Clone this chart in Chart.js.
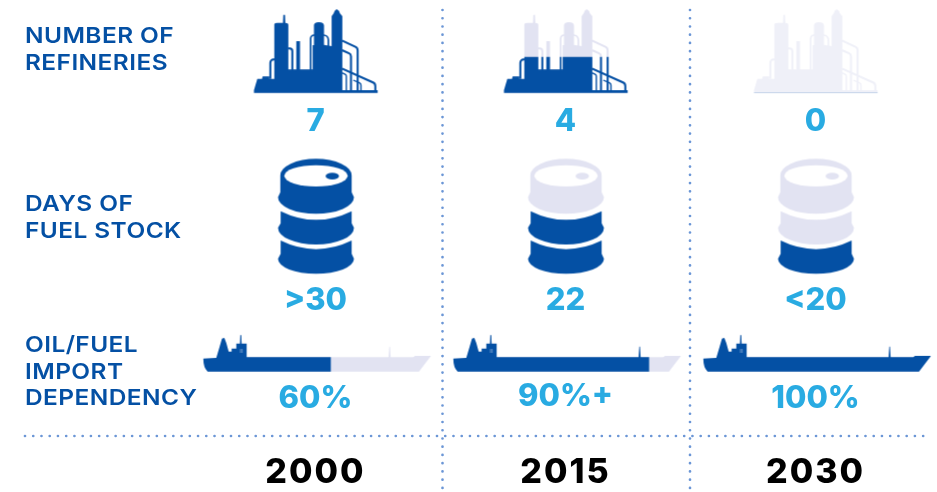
<!DOCTYPE html>
<html>
<head>
<meta charset="utf-8">
<style>
  html, body { margin: 0; background: #fff; }
  canvas { display: block; }
</style>
<script src="https://cdn.jsdelivr.net/npm/chart.js@4"></script>
</head>
<body>
<canvas id="chart" width="937" height="492"></canvas>
<script>
const years = [2000, 2015, 2030];
const rows = ['NUMBER OF REFINERIES', 'DAYS OF FUEL STOCK', 'OIL/FUEL IMPORT DEPENDENCY'];
const rowLines = [['NUMBER OF', 'REFINERIES'], ['DAYS OF', 'FUEL STOCK'], ['OIL/FUEL', 'IMPORT', 'DEPENDENCY']];

const refineries = [7, 4, 0];
const refineryShown = [1, 0.43, 0];   // how far up the icon the dark colour reaches
const stockLabels = ['>30', '22', '<20'];
const stockBands = [3, 2, 1];         // barrel bands filled, counted from the bottom
const importLabels = ['60%', '90%+', '100%'];
const importShown = [56, 86, 100];    // dark share of the ship length
const dividerYears = [2007.62, 2022.47];

const DARK = '#0450a4';
const LIGHT = '#e2e3f2';
const PALE = '#eff0f8';
const SKY = '#29abe2';
const DOTS = '#6b96d6';

function iconCanvas() {
  const c = document.createElement('canvas');
  c.width = 260;
  c.height = 148;
  return c;
}

// [line width, corner radius, points]
const refineryPipes = [
  [6, 10, [[91, 236], [91, 178], [104, 178]]],
  [6, 8, [[144, 145], [157, 145], [157, 210]]],
  [5, 10, [[212, 212], [212, 105], [224, 105]]],
  [5, 14, [[250, 105], [265, 105], [265, 140]]],
  [6, 12, [[306, 121], [353, 143], [353, 272]]],
  [6, 10, [[306, 150], [333, 162], [333, 272]]],
  [6, 12, [[306, 205], [406, 250], [406, 272]]],
  [4, 6, [[306, 218], [319, 224], [319, 272]]],
  [4, 8, [[340, 240], [363, 250], [363, 272]]]
];

// shapes below are traced at 3x, hence the scale calls
function refineryShape(ctx, color) {
  ctx.fillStyle = color;
  ctx.strokeStyle = color;
  ctx.lineCap = 'butt';
  ctx.lineJoin = 'round';
  ctx.beginPath();
  ctx.moveTo(42, 270); ctx.lineTo(52, 236); ctx.lineTo(66, 236); ctx.lineTo(68, 229);
  ctx.lineTo(88, 229); ctx.lineTo(88, 236); ctx.lineTo(103, 236);
  ctx.lineTo(103, 72); ctx.quadraticCurveTo(104, 68, 112, 68); ctx.lineTo(129, 68);
  ctx.lineTo(130, 44); ctx.lineTo(135, 44); ctx.lineTo(136, 68);
  ctx.quadraticCurveTo(145, 68, 145, 74); ctx.lineTo(145, 208); ctx.lineTo(218, 208);
  ctx.lineTo(218, 135); ctx.lineTo(222, 135);
  ctx.lineTo(222, 74); ctx.quadraticCurveTo(224, 66, 236, 66); ctx.quadraticCurveTo(251, 66, 252, 76);
  ctx.lineTo(252, 134); ctx.lineTo(275, 138);
  ctx.lineTo(275, 48); ctx.lineTo(281, 40); ctx.lineTo(284, 32); ctx.lineTo(290, 27);
  ctx.lineTo(297, 32); ctx.lineTo(300, 40); ctx.lineTo(307, 48);
  ctx.lineTo(307, 270); ctx.lineTo(413, 270); ctx.lineTo(413, 278); ctx.lineTo(42, 278);
  ctx.closePath();
  ctx.fill();
  ctx.fillRect(169, 123, 11, 90);

  refineryPipes.forEach(([w, r, p]) => {
    ctx.lineWidth = w;
    ctx.beginPath();
    ctx.moveTo(p[0][0], p[0][1]);
    ctx.arcTo(p[1][0], p[1][1], p[2][0], p[2][1], r);
    ctx.lineTo(p[2][0], p[2][1]);
    ctx.stroke();
  });
}

function refineryIcon(i) {
  const c = iconCanvas();
  const ctx = c.getContext('2d');
  ctx.translate(54.5, 0);
  ctx.scale(1 / 3, 1 / 3);
  refineryShape(ctx, refineries[i] === 0 ? PALE : LIGHT);
  const top = 27, bottom = 278;
  const level = bottom - (bottom - top) * refineryShown[i];
  ctx.save();
  ctx.beginPath();
  ctx.rect(0, level, 460, bottom - level + 2);
  ctx.clip();
  refineryShape(ctx, DARK);
  ctx.restore();
  return c;
}

function barrelIcon(i) {
  const c = iconCanvas();
  const ctx = c.getContext('2d');
  ctx.translate(74.5, 2);
  ctx.scale(1 / 3, 1 / 3);
  const filled = stockBands[i];

  ctx.fillStyle = filled >= 3 ? DARK : LIGHT;
  ctx.beginPath();
  ctx.ellipse(168, 75, 107, 50, 0, Math.PI, 0);
  ctx.lineTo(275, 125); ctx.lineTo(282, 140);
  ctx.ellipse(168, 140, 114, 50, 0, 0, Math.PI);
  ctx.lineTo(61, 125);
  ctx.closePath();
  ctx.fill();
  ctx.fillStyle = '#fff';
  ctx.beginPath();
  ctx.ellipse(168, 76, 95, 32, 0, 0, Math.PI * 2);
  ctx.fill();
  ctx.fillStyle = filled >= 3 ? DARK : LIGHT;
  ctx.beginPath();
  ctx.ellipse(217, 77, 20, 10, 0, 0, Math.PI * 2);
  ctx.fill();

  ctx.fillStyle = filled >= 2 ? DARK : LIGHT;
  ctx.beginPath();
  ctx.moveTo(62, 182); ctx.quadraticCurveTo(168, 234, 275, 182);
  ctx.lineTo(275, 218); ctx.lineTo(282, 232);
  ctx.ellipse(168, 232, 114, 50, 0, 0, Math.PI);
  ctx.lineTo(62, 218);
  ctx.closePath();
  ctx.fill();

  ctx.fillStyle = filled >= 1 ? DARK : LIGHT;
  ctx.beginPath();
  ctx.moveTo(62, 270); ctx.quadraticCurveTo(168, 322, 275, 270);
  ctx.lineTo(275, 310); ctx.lineTo(282, 325);
  ctx.ellipse(168, 325, 114, 45, 0, 0, Math.PI);
  ctx.lineTo(62, 310);
  ctx.closePath();
  ctx.fill();
  return c;
}

function shipShape(ctx, color) {
  ctx.fillStyle = color;
  ctx.beginPath();
  ctx.moveTo(25, 98);
  ctx.lineTo(64, 96); ctx.lineTo(74, 62); ctx.lineTo(81, 38); ctx.lineTo(88, 36);
  ctx.lineTo(94, 52); ctx.lineTo(101, 77); ctx.lineTo(110, 77); ctx.lineTo(110, 68);
  ctx.lineTo(124, 68); ctx.lineTo(124, 53); ctx.lineTo(135, 53); ctx.lineTo(136, 28);
  ctx.lineTo(139, 28); ctx.lineTo(140, 53); ctx.lineTo(155, 53); ctx.lineTo(155, 94);
  ctx.lineTo(581, 94); ctx.lineTo(583, 62); ctx.lineTo(585, 62); ctx.lineTo(587, 94);
  ctx.lineTo(655, 94); ctx.lineTo(660, 90); ctx.lineTo(708, 90); ctx.lineTo(672, 137);
  ctx.lineTo(38, 137); ctx.quadraticCurveTo(25, 125, 25, 98);
  ctx.closePath();
  ctx.fill();
}

function shipIcon(i) {
  const c = iconCanvas();
  const ctx = c.getContext('2d');
  ctx.translate(9.5, 29);
  ctx.scale(1 / 3, 1 / 3);
  shipShape(ctx, LIGHT);
  const left = 25, right = 708;
  ctx.save();
  ctx.beginPath();
  ctx.rect(0, 0, left + (right - left) * importShown[i] / 100, 200);
  ctx.clip();
  shipShape(ctx, DARK);
  ctx.restore();
  // bridge windows
  ctx.fillStyle = '#8fb0d8';
  [[135, 70], [140, 70], [135, 76], [140, 76]].forEach(([x, y]) => ctx.fillRect(x, y, 3, 4));
  return c;
}

// row labels, value labels and the dotted rules
const infographic = {
  id: 'infographic',
  beforeDraw(chart) {
    chart.ctx.letterSpacing = '2px';   // tick labels, the original face is wider
  },
  afterDatasetsDraw(chart) {
    const { ctx, scales: { x } } = chart;
    ctx.save();

    ctx.strokeStyle = DOTS;
    ctx.lineWidth = 2.7;
    ctx.lineCap = 'round';
    ctx.setLineDash([0, 8.24]);
    ctx.beginPath();
    ctx.moveTo(25, 436);
    ctx.lineTo(925, 436);
    dividerYears.forEach(yr => {
      const px = x.getPixelForValue(yr);
      ctx.moveTo(px, 10);
      ctx.lineTo(px, 492);
    });
    ctx.stroke();
    ctx.setLineDash([]);

    ctx.textAlign = 'left';
    ctx.textBaseline = 'alphabetic';
    ctx.fillStyle = DARK;
    ctx.font = '600 22px Inter';
    ctx.letterSpacing = '0.4px';
    const firstBaseline = [43, 211, 352];
    rowLines.forEach((lines, r) => {
      lines.forEach((t, l) => {
        ctx.save();
        ctx.translate(25, firstBaseline[r] + l * 26.5);
        ctx.scale(1.11, 1);
        ctx.fillText(t, 0, 0);
        ctx.restore();
      });
    });

    ctx.textAlign = 'center';
    ctx.fillStyle = SKY;
    ctx.font = '800 31px Inter';
    ctx.letterSpacing = '0px';
    const labelDrop = [57, 87, 37];
    chart.data.datasets.forEach((ds, r) => {
      chart.getDatasetMeta(r).data.forEach((pt, i) => {
        const nudge = ds.data[i].nudge || 0;
        ctx.fillText(ds.data[i].text, pt.x, pt.y + labelDrop[r] + nudge);
      });
    });
    ctx.restore();
  }
};

new Chart(document.getElementById('chart'), {
  type: 'scatter',
  data: {
    datasets: [
      {
        label: rows[0],
        data: years.map((yr, i) => ({ x: yr, y: rows[0], text: String(refineries[i]) })),
        pointStyle: years.map((yr, i) => refineryIcon(i))
      },
      {
        label: rows[1],
        data: years.map((yr, i) => ({ x: yr, y: rows[1], text: stockLabels[i] })),
        pointStyle: years.map((yr, i) => barrelIcon(i))
      },
      {
        label: rows[2],
        data: years.map((yr, i) => ({ x: yr, y: rows[2], text: importLabels[i], nudge: i === 1 ? -2 : 0 })),
        pointStyle: years.map((yr, i) => shipIcon(i))
      }
    ]
  },
  options: {
    responsive: false,
    animation: false,
    events: [],
    layout: { autoPadding: false, padding: 0 },
    plugins: { legend: { display: false }, tooltip: { enabled: false } },
    elements: { point: { radius: 2 } },
    clip: false,
    scales: {
      x: {
        type: 'linear',
        min: 1981.07,
        max: 2037.29,
        afterBuildTicks: axis => { axis.ticks = years.map(value => ({ value })); },
        afterFit: axis => { axis.height = 47; },
        grid: { display: false, drawTicks: false },
        border: { display: false },
        ticks: {
          autoSkip: false,
          maxRotation: 0,
          padding: 7,
          color: '#000',
          font: { family: 'Inter', size: 34, weight: '800' },
          callback: value => String(value)
        }
      },
      y: {
        type: 'category',
        labels: rows,
        offset: true,
        display: false
      }
    }
  },
  plugins: [infographic]
});
</script>
</body>
</html>
